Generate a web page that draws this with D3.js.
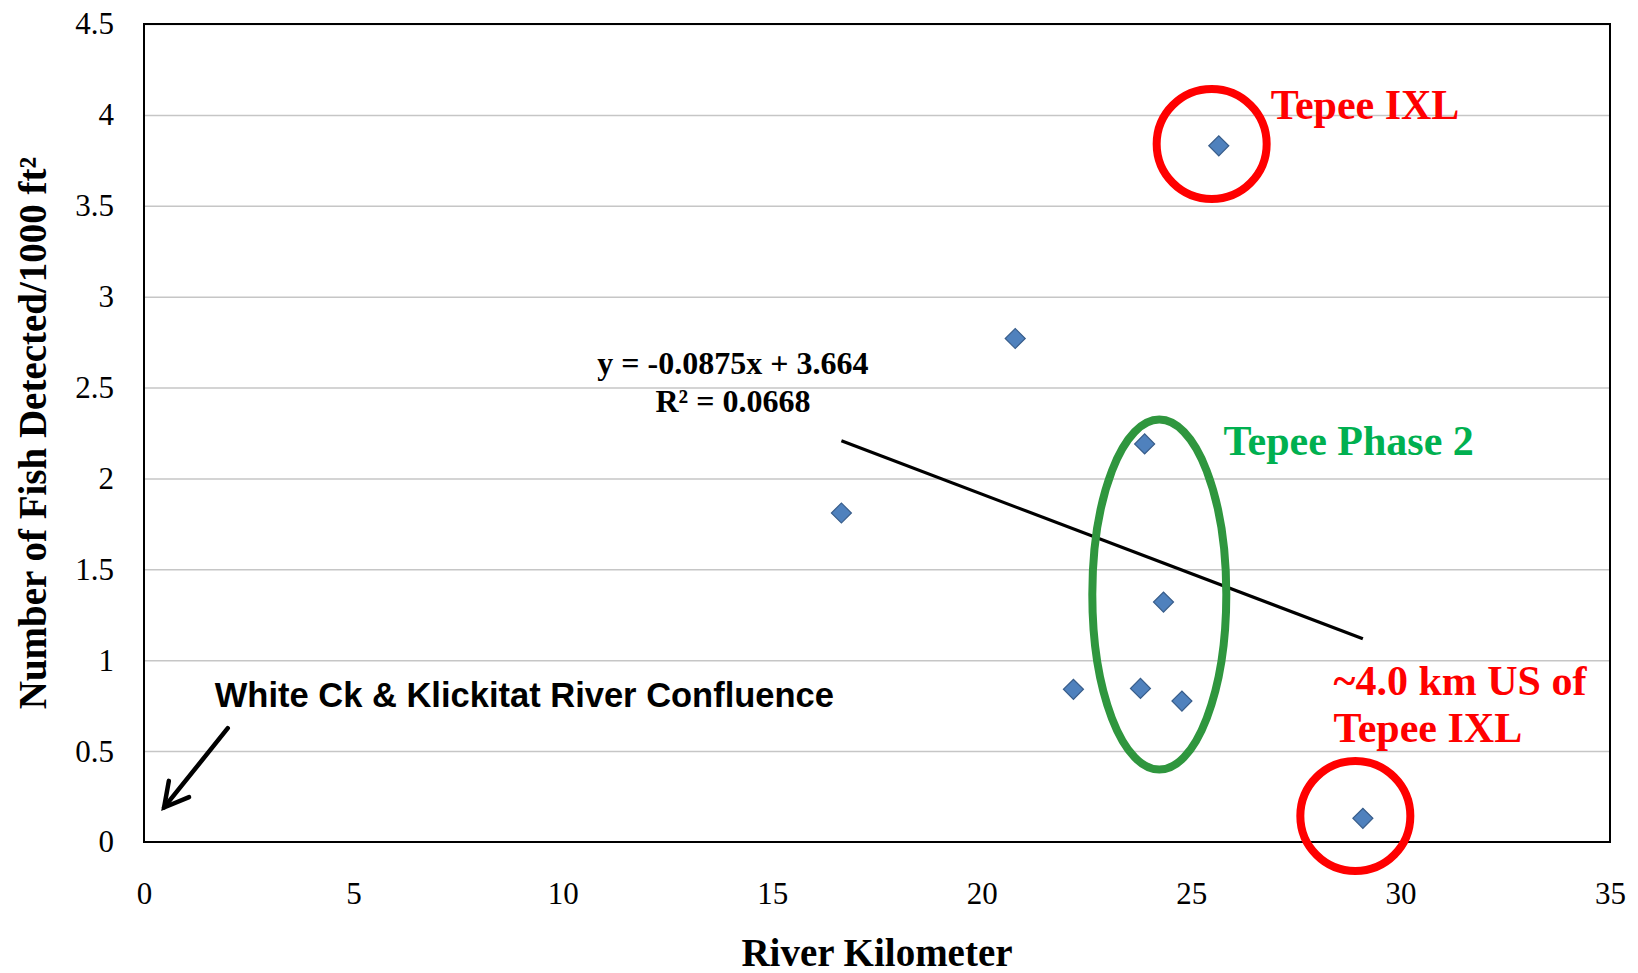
<!DOCTYPE html>
<html>
<head>
<meta charset="utf-8">
<script src="https://cdn.jsdelivr.net/npm/d3@7"></script>
<style>
  body { margin: 0; background: #fff; }
  .tick text { font-family: "Liberation Serif", serif; font-size: 31px; fill: #000; }
  .title { font-family: "Liberation Serif", serif; font-weight: bold; font-size: 39px; fill: #000; }
  .note { font-family: "Liberation Serif", serif; font-weight: bold; font-size: 42px; }
  .eq { font-family: "Liberation Serif", serif; font-weight: bold; font-size: 32px; fill: #000; }
  .sans { font-family: "Liberation Sans", Arial, sans-serif; font-weight: bold; font-size: 34.5px; fill: #000; }
</style>
</head>
<body>
<div id="vis"></div>
<script>
// site data: river kilometer vs fish detected per 1000 ft2
var riverKm = [16.65, 20.8, 25.66, 23.89, 24.34, 22.19, 23.79, 24.78, 29.1];
var fishDensity = [1.81, 2.77, 3.83, 2.19, 1.32, 0.84, 0.845, 0.775, 0.13];

var xTicks = [0, 5, 10, 15, 20, 25, 30, 35];
var yTicks = [0, 0.5, 1, 1.5, 2, 2.5, 3, 3.5, 4, 4.5];

// linear trendline y = slope * x + intercept
var slope = -0.0875;
var intercept = 3.664;
var trendRange = [16.65, 29.1];

var width = 1638;
var height = 973;
var margin = { left: 144, top: 24, right: 28, bottom: 131 };
var drawWidth = width - margin.left - margin.right;
var drawHeight = height - margin.top - margin.bottom;

var svg = d3.select('#vis').append('svg')
    .attr('width', width)
    .attr('height', height);

var g = svg.append('g')
    .attr('transform', 'translate(' + margin.left + ',' + margin.top + ')');

var xScale = d3.scaleLinear().domain([0, 35]).range([0, drawWidth]);
var yScale = d3.scaleLinear().domain([0, 4.5]).range([drawHeight, 0]);

// gridlines
var grid = g.append('g')
    .call(d3.axisLeft(yScale).tickValues(yTicks.slice(1)).tickSize(-drawWidth).tickFormat(''));
grid.select('.domain').remove();
grid.selectAll('line').attr('stroke', '#c6c6c6').attr('stroke-width', 1.5);

// axes
var xAxis = g.append('g')
    .attr('transform', 'translate(0,' + drawHeight + ')')
    .call(d3.axisBottom(xScale).tickValues(xTicks).tickSize(0).tickPadding(40).tickFormat(d3.format('d')));
xAxis.select('.domain').remove();
xAxis.selectAll('text').attr('dy', '0.71em');

var yAxis = g.append('g')
    .call(d3.axisLeft(yScale).tickValues(yTicks).tickSize(0).tickPadding(30).tickFormat(function(d){ return d; }));
yAxis.select('.domain').remove();

// plot border
g.append('rect')
    .attr('width', drawWidth)
    .attr('height', drawHeight)
    .attr('fill', 'none')
    .attr('stroke', '#000')
    .attr('stroke-width', 2);

// trendline
g.append('line')
    .attr('x1', xScale(trendRange[0]))
    .attr('y1', yScale(slope * trendRange[0] + intercept))
    .attr('x2', xScale(trendRange[1]))
    .attr('y2', yScale(slope * trendRange[1] + intercept))
    .attr('stroke', '#000')
    .attr('stroke-width', 3.2);

// points
var points = riverKm.map(function(d, i) { return { x: d, y: fishDensity[i] }; });
g.selectAll('.pt').data(points).enter().append('path')
    .attr('class', 'pt')
    .attr('d', d3.symbol().type(d3.symbolSquare).size(200))
    .attr('transform', function(d) {
        return 'translate(' + xScale(d.x) + ',' + yScale(d.y) + ') rotate(45)';
    })
    .attr('fill', '#4f81bd')
    .attr('stroke', '#385d8a')
    .attr('stroke-width', 1.2);

// equation label
g.append('text').attr('class', 'eq')
    .attr('x', xScale(14.06)).attr('y', yScale(2.574))
    .attr('text-anchor', 'middle')
    .text('y = -0.0875x + 3.664');
g.append('text').attr('class', 'eq')
    .attr('x', xScale(14.06)).attr('y', yScale(2.364))
    .attr('text-anchor', 'middle')
    .text('R² = 0.0668');

// annotation shapes
var circles = [
    { x: 25.49, y: 3.84 },
    { x: 28.92, y: 0.143 }
];
g.selectAll('.ring').data(circles).enter().append('circle')
    .attr('class', 'ring')
    .attr('cx', function(d) { return xScale(d.x); })
    .attr('cy', function(d) { return yScale(d.y); })
    .attr('r', 55)
    .attr('fill', 'none')
    .attr('stroke', '#ff0000')
    .attr('stroke-width', 8);

g.append('ellipse')
    .attr('cx', xScale(24.24))
    .attr('cy', yScale(1.361))
    .attr('rx', 67)
    .attr('ry', 175)
    .attr('fill', 'none')
    .attr('stroke', '#2f963e')
    .attr('stroke-width', 8);

// annotation texts
var notes = [
    { x: 26.9, y: 3.977, text: 'Tepee IXL', color: '#ff0000' },
    { x: 25.77, y: 2.128, text: 'Tepee Phase 2', color: '#00b050' },
    { x: 28.4, y: 0.808, text: '~4.0 km US of', color: '#ff0000' },
    { x: 28.4, y: 0.55, text: 'Tepee IXL', color: '#ff0000' }
];
g.selectAll('.note').data(notes).enter().append('text')
    .attr('class', 'note')
    .attr('x', function(d) { return xScale(d.x); })
    .attr('y', function(d) { return yScale(d.y); })
    .attr('fill', function(d) { return d.color; })
    .text(function(d) { return d.text; });

// confluence note and arrow
g.append('text').attr('class', 'sans')
    .attr('x', xScale(1.69)).attr('y', yScale(0.744))
    .text('White Ck & Klickitat River Confluence');

var tip = [xScale(0.48), yScale(0.19)];
var tail = [xScale(2.0), yScale(0.626)];
g.append('line')
    .attr('x1', tail[0]).attr('y1', tail[1])
    .attr('x2', tip[0]).attr('y2', tip[1])
    .attr('stroke', '#000').attr('stroke-width', 4.5).attr('stroke-linecap', 'round');
var ang = Math.atan2(tail[1] - tip[1], tail[0] - tip[0]);
var headLen = 27;
var arm = 0.5;
g.append('path')
    .attr('d', 'M' + (tip[0] + headLen * Math.cos(ang - arm)) + ',' + (tip[1] + headLen * Math.sin(ang - arm)) +
        'L' + tip[0] + ',' + tip[1] +
        'L' + (tip[0] + headLen * Math.cos(ang + arm)) + ',' + (tip[1] + headLen * Math.sin(ang + arm)))
    .attr('fill', 'none')
    .attr('stroke', '#000').attr('stroke-width', 4.5)
    .attr('stroke-linecap', 'round').attr('stroke-linejoin', 'miter');

// axis titles
svg.append('text').attr('class', 'title')
    .attr('x', margin.left + drawWidth / 2)
    .attr('y', 966)
    .attr('text-anchor', 'middle')
    .text('River Kilometer');

svg.append('text').attr('class', 'title')
    .attr('transform', 'translate(46,' + (margin.top + drawHeight / 2) + ') rotate(-90)')
    .attr('text-anchor', 'middle')
    .text('Number of Fish Detected/1000 ft²');
</script>
</body>
</html>
